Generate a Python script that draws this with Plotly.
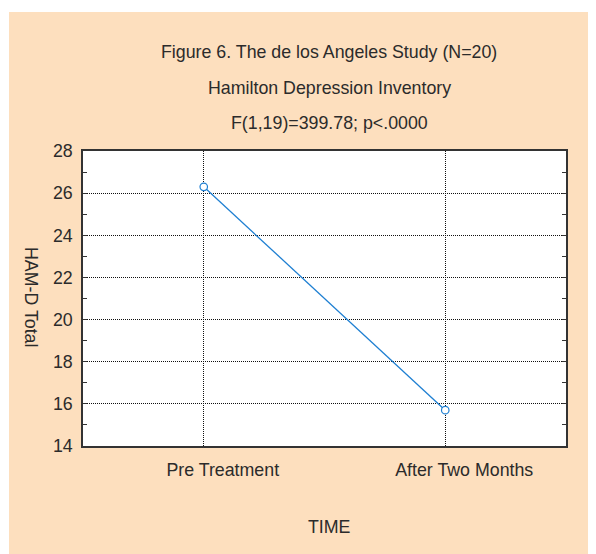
import plotly.graph_objects as go

categories = ["Pre Treatment", "After Two Months"]
ham_d_total = [26.3, 15.7]
y_ticks = [14, 16, 18, 20, 22, 24, 26, 28]
title_lines = [
    "Figure 6. The de los Angeles Study (N=20)",
    "Hamilton Depression Inventory",
    "F(1,19)=399.78; p<.0000",
]
x_title = "TIME"
y_title = "HAM-D Total"

# page places the figure at an 8px offset; work in reference pixels
OFF = 8
W, H = 596, 554
L, T = 83 - OFF, 151 - OFF
R, B = W - (566 - OFF), H - (446 - OFF)
pw, ph = W - L - R, H - T - B

def px_x(p):
    return (p - OFF - L) / pw

def px_y(p):
    return (H - B - (p - OFF)) / ph

FONT = "Liberation Sans, Arial, sans-serif"
FS = 17.8
TXT = "#2b2b2b"
PEACH = "#FDDFBE"

fig = go.Figure()
fig.add_trace(go.Scatter(
    x=categories, y=ham_d_total, mode="lines+markers",
    line=dict(color="#1E7FD2", width=1.3),
    marker=dict(symbol="circle", size=7.5, color="white",
                line=dict(color="#1E7FD2", width=1.2)),
    showlegend=False,
))

shapes = [
    dict(type="rect", xref="paper", yref="paper", layer="below",
         x0=px_x(9), x1=px_x(W + 20), y0=px_y(H + 20), y1=px_y(12),
         fillcolor=PEACH, line=dict(width=0)),
    dict(type="rect", xref="paper", yref="paper", layer="below",
         x0=0, x1=1, y0=0, y1=1, fillcolor="white", line=dict(width=0)),
]

title_y = [52, 88, 123]
annotations = []
for txt, yy in zip(title_lines, title_y):
    annotations.append(dict(text=txt, xref="paper", yref="paper",
                            x=px_x(329), y=px_y(yy), showarrow=False,
                            xanchor="center", yanchor="middle",
                            font=dict(family=FONT, size=FS, color=TXT)))
annotations.append(dict(text=x_title, xref="paper", yref="paper",
                        x=px_x(329), y=px_y(527), showarrow=False,
                        xanchor="center", yanchor="middle",
                        font=dict(family=FONT, size=FS, color=TXT)))
annotations.append(dict(text=y_title, xref="paper", yref="paper",
                        x=px_x(31), y=px_y(297), showarrow=False,
                        textangle=90, xanchor="center", yanchor="middle",
                        font=dict(family=FONT, size=FS, color=TXT)))

fig.update_layout(
    width=W, height=H,
    margin=dict(l=L, r=R, t=T, b=B, pad=0),
    paper_bgcolor="white", plot_bgcolor="white",
    shapes=shapes, annotations=annotations,
    font=dict(family=FONT, size=FS, color=TXT),
)
fig.update_xaxes(
    type="category", range=[-0.5, 1.5],
    showgrid=True, gridcolor="#111", griddash="1px,1px", gridwidth=1,
    showline=True, linecolor="#333", linewidth=1.5, mirror="ticks",
    ticks="inside", ticklen=0, tickcolor="#333",
    ticklabelstandoff=7, ticklabelshift=19,
    tickfont=dict(family=FONT, size=FS, color=TXT),
    zeroline=False,
)
fig.update_yaxes(
    range=[14, 28], tickvals=y_ticks,
    showgrid=True, gridcolor="#111", griddash="1px,1px", gridwidth=1,
    showline=True, linecolor="#333", linewidth=1.5, mirror="allticks",
    ticks="inside", ticklen=4, tickcolor="#333",
    minor=dict(dtick=1, ticks="inside", ticklen=4, tickcolor="#333", showgrid=False),
    ticklabelstandoff=5, tickfont=dict(family=FONT, size=FS, color=TXT),
    zeroline=False,
)

fig.write_html("out.html")
